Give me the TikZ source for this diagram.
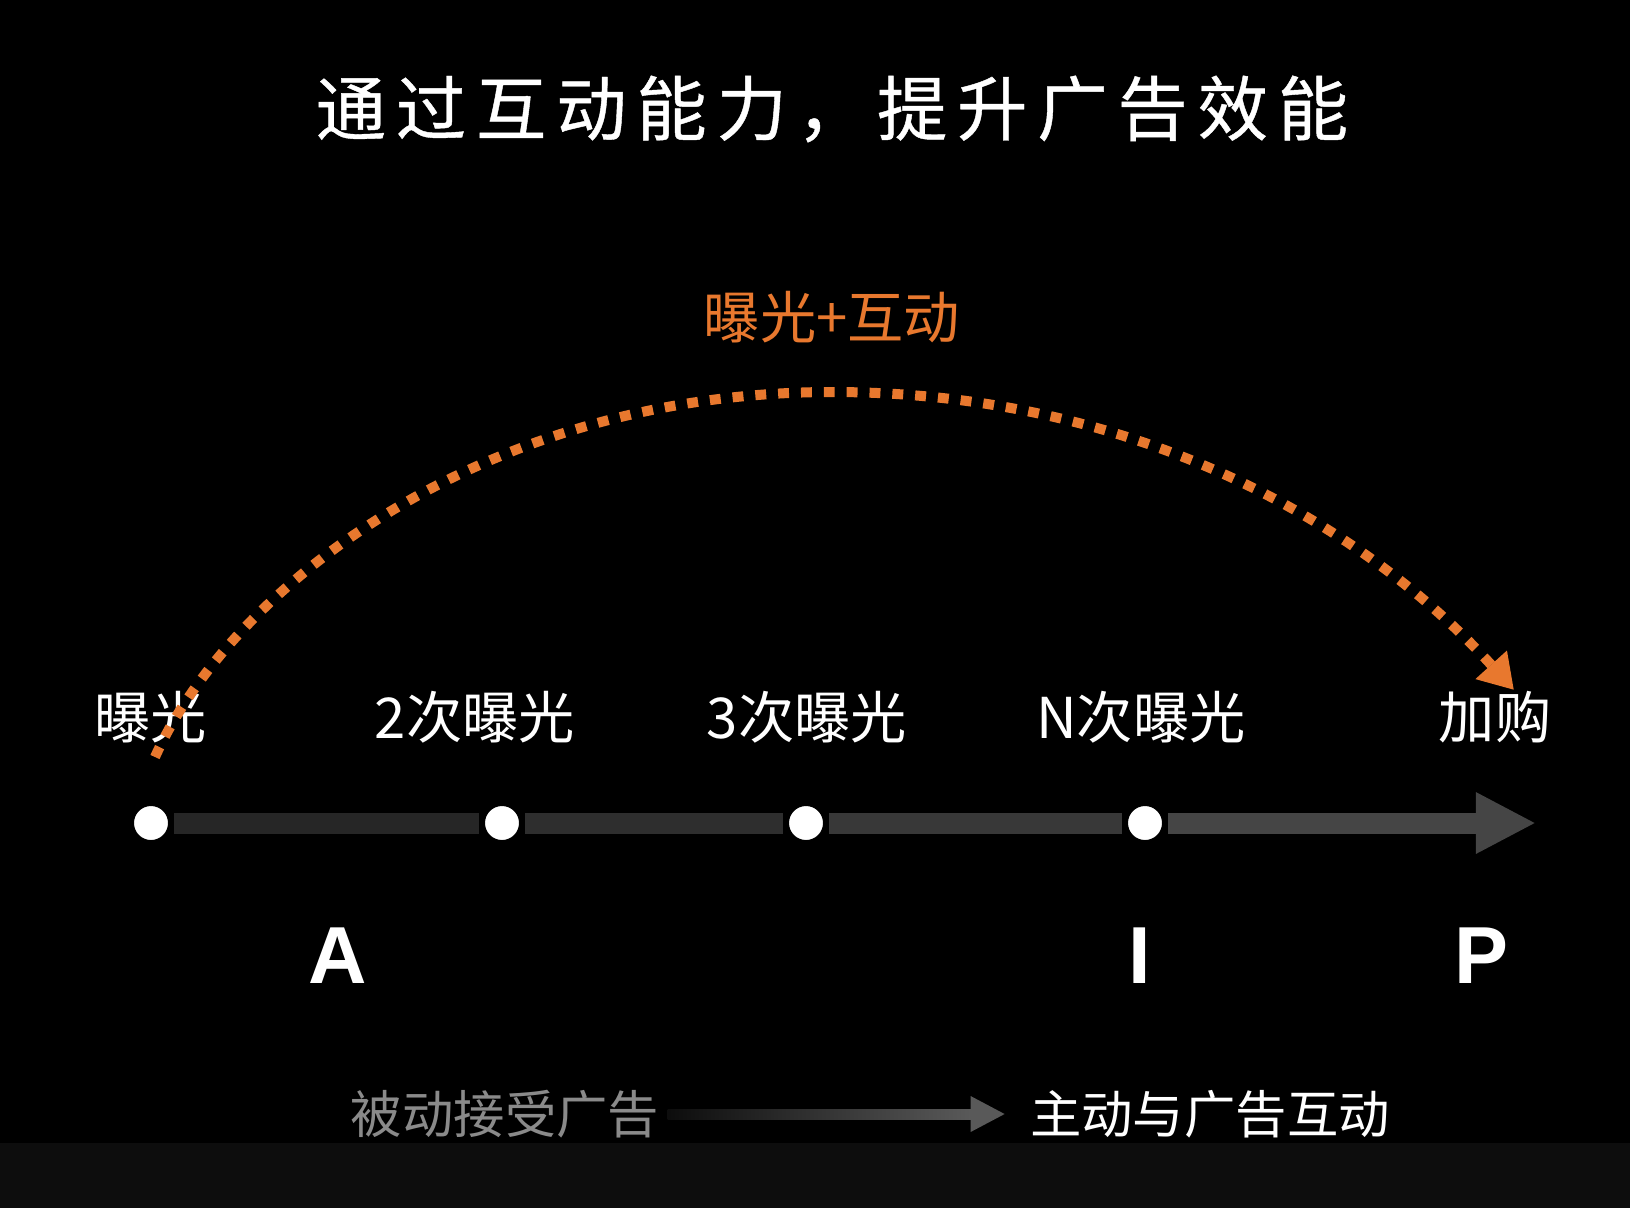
\documentclass[tikz,border=0pt]{standalone}
\usepackage{fontspec}
\setmainfont{Noto Sans CJK SC}
\newfontfamily\titlefont{Noto Sans CJK SC}[LetterSpace=14, FakeBold=0.6]
\newfontfamily\stagefont{Liberation Sans}
\usetikzlibrary{arrows.meta,calc}

\definecolor{hintorange}{HTML}{E8782E}
\definecolor{passivegray}{HTML}{8A8A8A}

\begin{document}
\begin{tikzpicture}[x=0.01cm, y=-0.01cm,
    every node/.style={inner sep=0pt, text=white},
    lbl/.style={font=\fontsize{16}{16}\selectfont},
    dot/.style={circle, fill=white, draw=black, line width=1.7pt, minimum size=0.4cm},
    bar/.style={line width=0.21cm},
    stage/.style={font=\stagefont\bfseries\fontsize{23}{23}\selectfont},
    hint/.style={hintorange, line width=0.1cm, dash pattern=on 3.1pt off 3.4pt,
      -{Triangle[length=0.34cm, width=0.4cm]}}]

  % background
  \fill[black] (0,0) rectangle (1630,1208);
  \fill[black!95!white] (0,1143) rectangle (1630,1208);
  \useasboundingbox (0,0) rectangle (1630,1208);

  % title
  \node[font=\titlefont\fontsize{20}{20}\selectfont] (title) at (832,109) {通过互动能力，提升广告效能};

  % exposure labels
  \node[lbl] (l1) at (151,717) {曝光};
  \node[lbl] (l2) at (475,717) {2次曝光};
  \node[lbl] (l3) at (807,717) {3次曝光};
  \node[lbl] (l4) at (1141,717) {N次曝光};
  \node[lbl] (l5) at (1495,717) {加购};

  % dots on the timeline
  \foreach \n/\x in {1/151, 2/502, 3/806, 4/1145}
    \node[dot] (d\n) at (\x,823) {};
  \coordinate (tlend) at (1536,823);

  % timeline, getting lighter to the right
  \draw[bar, draw=black!85!white] (d1) -- (d2);
  \draw[bar, draw=black!82!white] (d2) -- (d3);
  \draw[bar, draw=black!78!white] (d3) -- (d4);
  \draw[bar, draw=black!73!white, -{Triangle[length=0.6cm, width=0.57cm]}] (d4) -- (tlend);

  % dotted arc from first exposure to purchase
  \node[lbl, text=hintorange] (combo) at (832,317) {曝光+互动};
  \coordinate (arcS) at (155,757);
  \coordinate (arcTop) at (832,392);
  \coordinate (arcE) at (1514,690);
  \draw[hint] (arcS) .. controls (230,590) and (480,392) .. (arcTop)
    .. controls (1130,392) and (1360,520) .. (arcE);

  % stages
  \node[stage] (sa) at (338,956) {A};
  \node[stage] (si) at (1140,956) {I};
  \node[stage] (sp) at (1481,956) {P};

  % bottom: passive -> active
  \node[font=\fontsize{14.6}{14.6}\selectfont, text=passivegray] (b1) at (505,1114) {被动接受广告};
  \node[font=\fontsize{14.6}{14.6}\selectfont] (b2) at (1210,1114) {主动与广告互动};
  \shade[left color=black!95!white, right color=black!65!white]
    ($(b1.east)+(8,-5)$) rectangle ($(b2.west)+(-58,5)$);
  \fill[black!65!white] ($(b2.west)+(-59,-18)$) -- ($(b2.west)+(-25,0)$) -- ($(b2.west)+(-59,18)$) -- cycle;

\end{tikzpicture}
\end{document}
